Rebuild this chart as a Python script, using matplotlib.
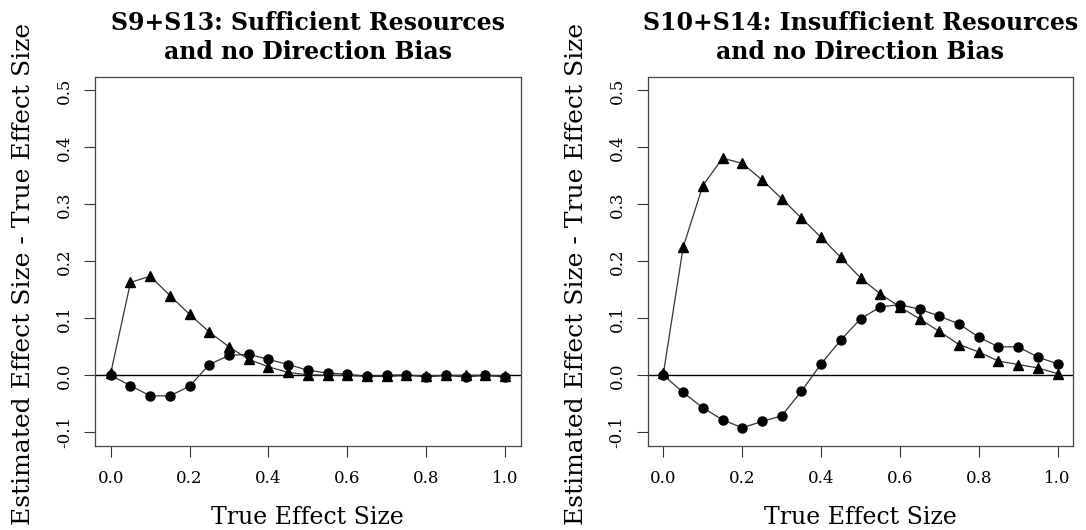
import numpy as np
import matplotlib
matplotlib.use("Agg")
import matplotlib.pyplot as plt

plt.rcParams['font.family'] = ['DejaVu Serif']

# true effect size grid
true_es = [0.0, 0.05, 0.10, 0.15, 0.20, 0.25, 0.30, 0.35, 0.40, 0.45, 0.50,
           0.55, 0.60, 0.65, 0.70, 0.75, 0.80, 0.85, 0.90, 0.95, 1.0]

# S9+S13 (sufficient resources)
s9_tri = [0.004, 0.163, 0.174, 0.140, 0.107, 0.076, 0.050, 0.028, 0.015, 0.005, 0.001,
          0.000, 0.000, -0.002, -0.002, 0.000, -0.001, 0.000, 0.000, 0.000, -0.001]
s9_circ = [0.000, -0.018, -0.036, -0.036, -0.019, 0.019, 0.035, 0.037, 0.028, 0.019, 0.009,
           0.004, 0.002, -0.002, 0.000, 0.001, -0.003, 0.000, -0.003, 0.000, -0.003]

# S10+S14 (insufficient resources)
s10_tri = [0.004, 0.225, 0.333, 0.381, 0.372, 0.343, 0.310, 0.276, 0.242, 0.207, 0.171,
           0.143, 0.120, 0.099, 0.077, 0.054, 0.041, 0.025, 0.019, 0.013, 0.003]
s10_circ = [0.000, -0.030, -0.057, -0.078, -0.092, -0.081, -0.071, -0.028, 0.020, 0.062, 0.099,
            0.120, 0.124, 0.116, 0.104, 0.090, 0.067, 0.050, 0.050, 0.032, 0.020]

titles = ["S9+S13: Sufficient Resources\nand no Direction Bias",
          "S10+S14: Insufficient Resources\nand no Direction Bias"]
xticks = [0.0, 0.2, 0.4, 0.6, 0.8, 1.0]
yticks = [-0.1, 0.0, 0.1, 0.2, 0.3, 0.4, 0.5]

W, H = 1086, 530
fig = plt.figure(figsize=(W / 100, H / 100), dpi=100)

boxes = [(95, 520.7), (647.7, 1073.3)]
top_px, bot_px = 76.7, 446
panels = [(s9_tri, s9_circ), (s10_tri, s10_circ)]

for (l, r), (tri, circ), title in zip(boxes, panels, titles):
    ax = fig.add_axes([l / W, 1 - bot_px / H, (r - l) / W, (bot_px - top_px) / H])
    ax.axhline(0, color='black', lw=1.0, zorder=1)
    ax.plot(true_es, tri, color='#333333', lw=0.9, marker='^', markersize=7.5,
            markerfacecolor='black', markeredgecolor='black', zorder=3)
    ax.plot(true_es, circ, color='#333333', lw=0.9, marker='o', markersize=6.5,
            markerfacecolor='black', markeredgecolor='black', zorder=3)
    ax.set_xlim(-0.04, 1.04)
    ax.set_ylim(-0.124, 0.524)
    ax.set_xticks(xticks)
    ax.set_xticklabels([f"{v:.1f}" for v in xticks])
    ax.set_yticks(yticks)
    ax.set_yticklabels([f"{v:.1f}" for v in yticks])
    ax.tick_params(direction='out', length=8, width=0.8, labelsize=12, color='#333333')
    ax.tick_params(axis='x', pad=9)
    ax.tick_params(axis='y', pad=8, labelrotation=90)
    for lab in ax.get_yticklabels():
        lab.set_va('center')
    for sp in ax.spines.values():
        sp.set_linewidth(0.9)
        sp.set_color('#444444')

    h = bot_px - top_px
    w = r - l
    ax.set_xlabel("True Effect Size", fontsize=17)
    ax.xaxis.set_label_coords(0.5, -71 / h)
    ax.xaxis.label.set_va('center')
    ax.set_ylabel("Estimated Effect Size - True Effect Size", fontsize=18)
    ax.yaxis.set_label_coords(-71 / w, (bot_px - 274) / h)
    ax.yaxis.label.set_va('center')

    ax.text(0.5, (bot_px - 37.5) / h, title, transform=ax.transAxes,
            ha='center', va='center', fontsize=17, fontweight='bold',
            linespacing=1.3)

fig.savefig("out.png", dpi=100)
